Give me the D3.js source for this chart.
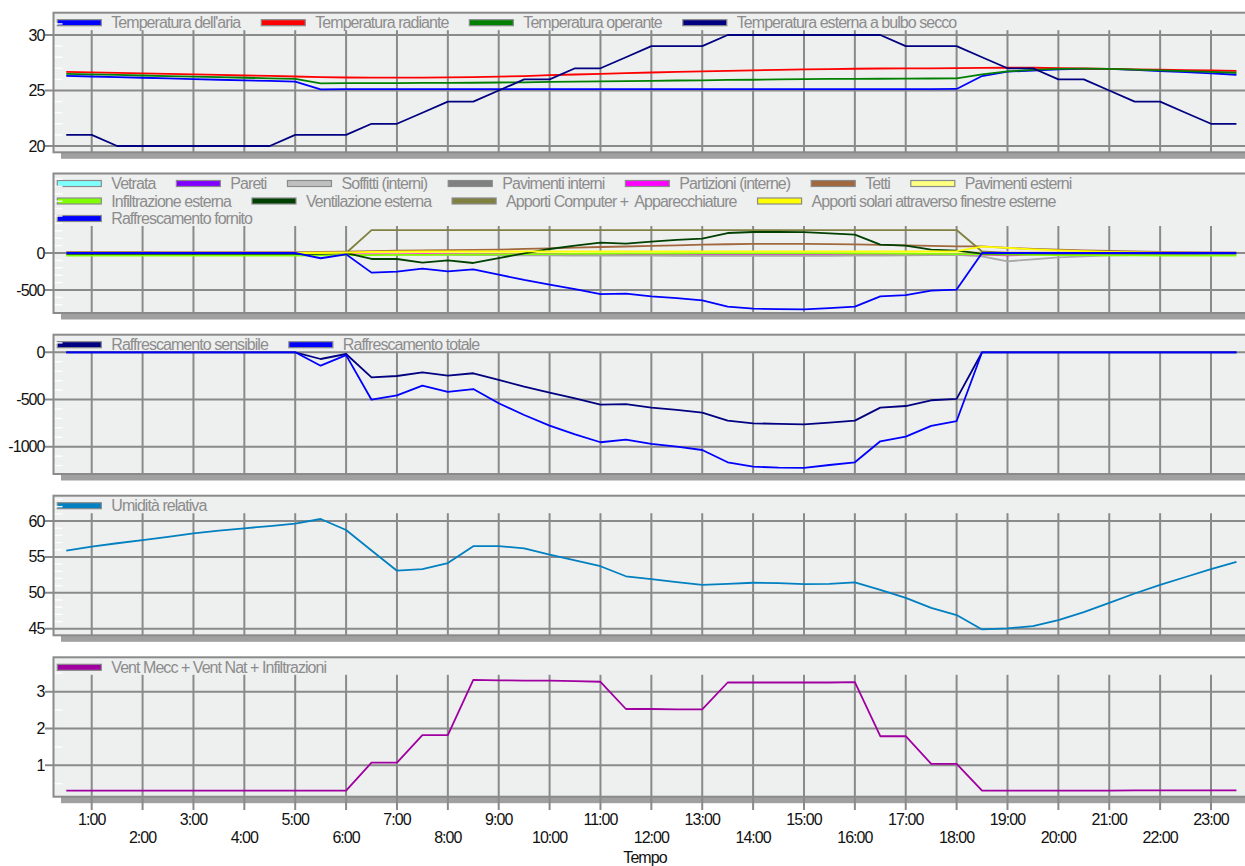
<!DOCTYPE html>
<html lang="it">
<head>
<meta charset="UTF-8">
<title>Andamento orario</title>
<script src="https://cdn.jsdelivr.net/npm/d3@7"></script>
<style>
  body { margin: 0; background: #fff; overflow: hidden; }
  svg text { font-family: "Liberation Sans", Arial, sans-serif; font-size: 16px; letter-spacing: -0.95px; white-space: pre; }
  .legend text { fill: #8c8c8c; }
  .lbl { fill: #111; }
</style>
</head>
<body>
<div id="chart"></div>
<script>
// half-hour samples, 0:30 .. 23:30
const hours = [0.5, 1, 1.5, 2, 2.5, 3, 3.5, 4, 4.5, 5, 5.5, 6, 6.5, 7, 7.5, 8, 8.5, 9, 9.5, 10, 10.5, 11, 11.5, 12,
  12.5, 13, 13.5, 14, 14.5, 15, 15.5, 16, 16.5, 17, 17.5, 18, 18.5, 19, 19.5, 20, 20.5, 21, 21.5, 22, 22.5, 23, 23.5];
const tickHours = [1, 2, 3, 4, 5, 6, 7, 8, 9, 10, 11, 12, 13, 14, 15, 16, 17, 18, 19, 20, 21, 22, 23];
const tickLabels = ["1:00", "2:00", "3:00", "4:00", "5:00", "6:00", "7:00", "8:00", "9:00", "10:00", "11:00", "12:00",
  "13:00", "14:00", "15:00", "16:00", "17:00", "18:00", "19:00", "20:00", "21:00", "22:00", "23:00"];

// pannello 1 - temperature
const tAria = [26.32, 26.26, 26.2, 26.15, 26.09, 26.03, 25.97, 25.92, 25.86, 25.8, 25.1, 25.12, 25.12, 25.12, 25.12, 25.12,
  25.12, 25.12, 25.12, 25.12, 25.12, 25.12, 25.12, 25.12, 25.12, 25.12, 25.12, 25.12, 25.12, 25.12, 25.12, 25.12, 25.12,
  25.12, 25.12, 25.14, 26.3, 26.7, 26.8, 26.9, 26.95, 26.95, 26.85, 26.75, 26.65, 26.55, 26.42];
const tRadiante = [26.68, 26.63, 26.59, 26.54, 26.49, 26.45, 26.4, 26.35, 26.31, 26.26, 26.2, 26.17, 26.16, 26.16, 26.16,
  26.18, 26.2, 26.25, 26.3, 26.38, 26.44, 26.5, 26.56, 26.62, 26.67, 26.72, 26.77, 26.82, 26.86, 26.9, 26.93, 26.96, 26.98,
  27.0, 27.0, 27.02, 27.03, 27.05, 27.05, 27.02, 26.98, 26.95, 26.9, 26.87, 26.83, 26.8, 26.77];
const tOperante = [26.5, 26.45, 26.4, 26.35, 26.3, 26.25, 26.2, 26.15, 26.1, 26.05, 25.65, 25.66, 25.66, 25.67, 25.68,
  25.69, 25.7, 25.72, 25.74, 25.77, 25.8, 25.82, 25.85, 25.87, 25.9, 25.92, 25.95, 25.97, 26.0, 26.02, 26.04, 26.05, 26.06,
  26.07, 26.08, 26.09, 26.45, 26.72, 26.85, 26.95, 26.97, 26.95, 26.88, 26.82, 26.75, 26.68, 26.6];
const tEsterna = [21, 21, 20, 20, 20, 20, 20, 20, 20, 21, 21, 21, 22, 22, 23, 24, 24, 25, 26, 26, 27, 27, 28, 29, 29, 29,
  30, 30, 30, 30, 30, 30, 30, 29, 29, 29, 28, 27, 27, 26, 26, 25, 24, 24, 23, 22, 22];

// pannello 2 - bilancio termico
const vetrata = [0, 0, 0, 0, 0, 0, 0, 0, 0, 0, 0, 0, 3, 4, 5, 6, 6, 7, 8, 8, 9, 9, 9, 9, 9, 9, 9, 9, 8, 8, 7, 6, 5, 4, 3, 2,
  0, 0, 0, 0, 0, 0, 0, 0, 0, 0, 0];
const pareti = [4, 4, 4, 4, 4, 4, 4, 4, 4, 4, 4, 4, 5, 6, 6, 7, 7, 8, 8, 9, 9, 10, 10, 10, 10, 10, 10, 10, 10, 9, 9, 8, 8,
  7, 7, 6, 6, 5, 5, 5, 4, 4, 4, 4, 4, 4, 4];
const soffitti = [-5, -5, -5, -5, -5, -5, -5, -5, -5, -5, -5, -5, -15, -20, -22, -25, -27, -30, -32, -33, -34, -35, -35,
  -36, -37, -38, -38, -38, -38, -38, -37, -36, -35, -33, -30, -25, -45, -113, -85, -58, -45, -32, -28, -25, -22, -20, -18];
const pavInterni = [-3, -3, -3, -3, -3, -3, -3, -3, -3, -3, -3, -3, -4, -5, -5, -6, -6, -6, -7, -7, -7, -7, -7, -7, -7,
  -7, -7, -7, -7, -7, -6, -6, -6, -5, -5, -5, -6, -8, -7, -6, -5, -5, -4, -4, -4, -3, -3];
const partizioni = [-2, -2, -2, -2, -2, -2, -2, -2, -2, -2, -2, -2, -6, -8, -9, -10, -10, -11, -11, -12, -12, -12, -13,
  -13, -13, -13, -13, -13, -13, -13, -13, -13, -13, -13, -13, -14, -20, -32, -20, -12, -8, -6, -5, -4, -4, -3, -3];
const tetti = [15, 15, 14, 14, 13, 13, 12, 12, 12, 12, 14, 18, 25, 32, 36, 40, 43, 46, 55, 63, 72, 81, 88, 95, 104, 113,
  118, 122, 122, 122, 120, 117, 110, 104, 97, 90, 90, 68, 56, 45, 36, 27, 20, 14, 11, 9, 6];
const pavEsterni = [5, 5, 5, 5, 5, 5, 5, 5, 5, 5, 5, 5, 6, 7, 8, 8, 9, 10, 10, 11, 11, 12, 12, 12, 12, 12, 12, 12, 12, 11,
  11, 10, 10, 9, 9, 8, 8, 8, 7, 7, 6, 6, 6, 5, 5, 5, 5];
const infiltrazione = [-35, -35, -35, -36, -36, -36, -36, -36, -36, -35, -32, -30, -28, -26, -24, -22, -20, -18, -16, -14,
  -12, -10, -9, -8, -7, -6, -5, -5, -5, -5, -6, -7, -8, -10, -12, -14, -18, -22, -25, -28, -30, -32, -33, -34, -35, -35, -36];
const ventilazione = [-10, -10, -10, -10, -10, -10, -10, -10, -10, -10, -10, 0, -81, -81, -131, -99, -135, -68, -5, 54, 99,
  140, 126, 153, 176, 194, 270, 284, 284, 282, 266, 248, 113, 99, 45, 32, -9, -5, -5, -5, -5, -5, -5, -5, -5, -5, -5];
const computer = [0, 0, 0, 0, 0, 0, 0, 0, 0, 0, 0, 0, 310, 310, 310, 310, 310, 310, 310, 310, 310, 310, 310, 310, 310, 310,
  310, 310, 310, 310, 310, 310, 310, 310, 310, 310, 20, 0, 0, 0, 0, 0, 0, 0, 0, 0, 0];
const solari = [0, 0, 0, 0, 0, 0, 0, 0, 0, 0, 0, 5, 15, 18, 20, 21, 22, 22, 22, 22, 22, 22, 22, 22, 22, 22, 22, 22, 22, 22,
  22, 22, 22, 22, 22, 25, 85, 68, 50, 36, 24, 14, 8, 3, 0, 0, 0];

// pannello 3 - raffrescamento
const raffSensibile = [0, 0, 0, 0, 0, 0, 0, 0, 0, 0, -71, -18, -265, -251, -212, -247, -222, -293, -364, -427, -487, -555,
  -548, -586, -611, -640, -724, -752, -759, -763, -745, -724, -586, -569, -508, -494, 0, 0, 0, 0, 0, 0, 0, 0, 0, 0, 0];
const raffTotale = [0, 0, 0, 0, 0, 0, 0, 0, 0, 0, -142, -30, -502, -456, -353, -420, -389, -540, -664, -777, -869, -953,
  -925, -971, -1000, -1035, -1165, -1211, -1222, -1225, -1194, -1165, -943, -893, -780, -728, 0, 0, 0, 0, 0, 0, 0, 0, 0, 0, 0];

// pannello 4 - umidita
const umidita = [55.87, 56.42, 56.9, 57.35, 57.8, 58.28, 58.65, 58.98, 59.3, 59.63, 60.28, 58.75, 55.9, 53.08, 53.3,
  54.15, 56.5, 56.5, 56.2, 55.3, 54.5, 53.7, 52.3, 51.9, 51.5, 51.1, 51.25, 51.4, 51.35, 51.2, 51.25, 51.45, 50.4, 49.3,
  47.9, 46.9, 44.9, 45.05, 45.35, 46.2, 47.3, 48.6, 49.9, 51.1, 52.2, 53.3, 54.3];

// pannello 5 - ricambi d'aria
const ventilazioneTot = [0.31, 0.31, 0.31, 0.31, 0.31, 0.31, 0.31, 0.31, 0.31, 0.31, 0.31, 0.31, 1.07, 1.07, 1.82, 1.82,
  3.32, 3.31, 3.3, 3.3, 3.29, 3.27, 2.53, 2.53, 2.52, 2.52, 3.25, 3.25, 3.25, 3.25, 3.25, 3.26, 1.79, 1.79, 1.04, 1.04,
  0.31, 0.31, 0.31, 0.31, 0.31, 0.31, 0.32, 0.32, 0.32, 0.32, 0.32];

const panels = [
  { top: 12.7, bottom: 152.3, ticks: [20, 25, 30], map: [[20, 146], [30, 35]], minor: [19, 32, 1],
    series: [
      { name: "Temperatura dell'aria", color: "#0000ff", values: tAria },
      { name: "Temperatura radiante", color: "#ff0000", values: tRadiante },
      { name: "Temperatura operante", color: "#008000", values: tOperante },
      { name: "Temperatura esterna a bulbo secco", color: "#000080", values: tEsterna }
    ] },
  { top: 173.5, bottom: 313, ticks: [-500, 0], map: [[0, 253], [-500, 290]], minor: [-800, 1000, 100],
    series: [
      { name: "Vetrata", color: "#80ffff", values: vetrata },
      { name: "Pareti", color: "#8000ff", values: pareti },
      { name: "Soffitti (interni)", color: "#c0c0c0", values: soffitti, line: "#a8a8a8" },
      { name: "Pavimenti interni", color: "#808080", values: pavInterni },
      { name: "Partizioni (interne)", color: "#ff00ff", values: partizioni },
      { name: "Tetti", color: "#a0683c", values: tetti },
      { name: "Pavimenti esterni", color: "#ffff80", values: pavEsterni },
      { name: "Infiltrazione esterna", color: "#80ff00", values: infiltrazione },
      { name: "Ventilazione esterna", color: "#004000", values: ventilazione },
      { name: "Apporti Computer +  Apparecchiature", color: "#808040", values: computer },
      { name: "Apporti solari attraverso finestre esterne", color: "#ffff00", values: solari },
      { name: "Raffrescamento fornito", color: "#0000ff", values: raffSensibile }
    ] },
  { top: 334.7, bottom: 474, ticks: [-1000, -500, 0], map: [[0, 352.3], [-1000, 446.7]], minor: [-1300, 200, 100],
    series: [
      { name: "Raffrescamento sensibile", color: "#000080", values: raffSensibile },
      { name: "Raffrescamento totale", color: "#0000ff", values: raffTotale }
    ] },
  { top: 495.7, bottom: 635.3, ticks: [45, 50, 55, 60], map: [[45, 628.7], [60, 521]], minor: [44, 64, 1],
    series: [
      { name: "Umidità relativa", color: "#0080c0", values: umidita }
    ] },
  { top: 657.3, bottom: 796.7, ticks: [1, 2, 3], map: [[1, 765.3], [3, 691.7]], minor: [0, 4, 0.5],
    series: [
      { name: "Vent Mecc + Vent Nat + Infiltrazioni", color: "#a000a0", values: ventilazioneTot }
    ] }
];

const W = 1245, H = 866;
const left = 53.5, right = 1252;
const gridColor = "#8a8a8a";

const svg = d3.select("#chart").append("svg")
  .attr("width", W).attr("height", H);

const x = d3.scaleLinear().domain([1, 23]).range([91.7, 1211]);

panels.forEach((p, pi) => {
  const y = d3.scaleLinear()
    .domain([p.map[0][0], p.map[1][0]])
    .range([p.map[0][1], p.map[1][1]]);
  const g = svg.append("g");
  const isLast = pi === panels.length - 1;

  // ombra + sfondo
  g.append("rect").attr("x", 61).attr("y", p.bottom).attr("width", right - 61 + 10).attr("height", 6.5)
    .attr("fill", "#a0a0a0");
  g.append("rect").attr("x", left).attr("y", p.top).attr("width", right - left).attr("height", p.bottom - p.top)
    .attr("fill", "#eeefef");

  // legenda (flusso con a capo)
  const leg = g.append("g").attr("class", "legend");
  let lx = 57.3, row = 0;
  p.series.forEach(s => {
    const t = leg.append("text").attr("dominant-baseline", "central").text(s.name);
    const tw = t.node().getComputedTextLength();
    if (lx + 54 + tw > 1200 && lx > 58) { lx = 57.3; row++; }
    const cy = p.top + 10 + row * 17.5;
    leg.append("rect").attr("x", lx).attr("y", cy - 3).attr("width", 44).attr("height", 6)
      .attr("fill", s.color).attr("stroke", "#8a8a8a").attr("stroke-width", 1.2);
    t.attr("x", lx + 54).attr("y", cy);
    lx += 54 + tw + 21;
  });
  const legBottom = p.top + (row + 1) * 17.5;

  // tacche minori
  const [m0, m1, ms] = p.minor;
  const minors = [];
  for (let v = m0; v <= m1 + 1e-9; v += ms) {
    const yy = y(v);
    if (yy > p.top + 2 && yy < p.bottom - 2 && !p.ticks.some(t => Math.abs(t - v) < 1e-9)) minors.push(v);
  }
  g.selectAll(".minor").data(minors).join("line")
    .attr("x1", left + 1).attr("x2", left + 9).attr("y1", d => y(d)).attr("y2", d => y(d))
    .attr("stroke", "#ffffff").attr("stroke-width", 1.5).attr("opacity", 0.9);

  // griglia orizzontale
  g.selectAll(".hgrid").data(p.ticks).join("line")
    .attr("x1", 45).attr("x2", right).attr("y1", d => y(d)).attr("y2", d => y(d))
    .attr("stroke", gridColor).attr("stroke-width", 2);

  // griglia verticale
  g.selectAll(".vgrid").data(tickHours).join("line")
    .attr("x1", d => x(d)).attr("x2", d => x(d))
    .attr("y1", legBottom).attr("y2", isLast ? 810 : p.bottom)
    .attr("stroke", gridColor).attr("stroke-width", 2);

  // serie
  const clipId = "clip" + pi;
  svg.append("clipPath").attr("id", clipId).append("rect")
    .attr("x", left).attr("y", p.top).attr("width", right - left).attr("height", p.bottom - p.top);
  const line = d3.line().x((d, i) => x(hours[i])).y(d => y(d));
  g.append("g").attr("clip-path", `url(#${clipId})`)
    .selectAll("path").data(p.series).join("path")
    .attr("d", s => line(s.values))
    .attr("fill", "none")
    .attr("stroke", s => s.line || s.color)
    .attr("stroke-width", 1.8)
    .attr("stroke-linejoin", "round");

  // cornice
  g.append("rect").attr("x", left).attr("y", p.top).attr("width", right - left).attr("height", p.bottom - p.top)
    .attr("fill", "none").attr("stroke", gridColor).attr("stroke-width", 2);

  // etichette asse y
  g.selectAll(".ylab").data(p.ticks).join("text")
    .attr("class", "lbl")
    .attr("x", 44.5).attr("y", d => y(d))
    .attr("text-anchor", "end").attr("dominant-baseline", "central")
    .text(d => d);
});

// etichette asse x (alternate su due righe)
svg.append("g").selectAll("text").data(tickHours).join("text")
  .attr("class", "lbl")
  .attr("x", d => x(d))
  .attr("y", (d, i) => i % 2 === 0 ? 819 : 837)
  .attr("text-anchor", "middle").attr("dominant-baseline", "central")
  .text((d, i) => tickLabels[i]);

svg.append("text").attr("class", "lbl")
  .attr("x", 645).attr("y", 857)
  .attr("text-anchor", "middle").attr("dominant-baseline", "central")
  .text("Tempo");
</script>
</body>
</html>
